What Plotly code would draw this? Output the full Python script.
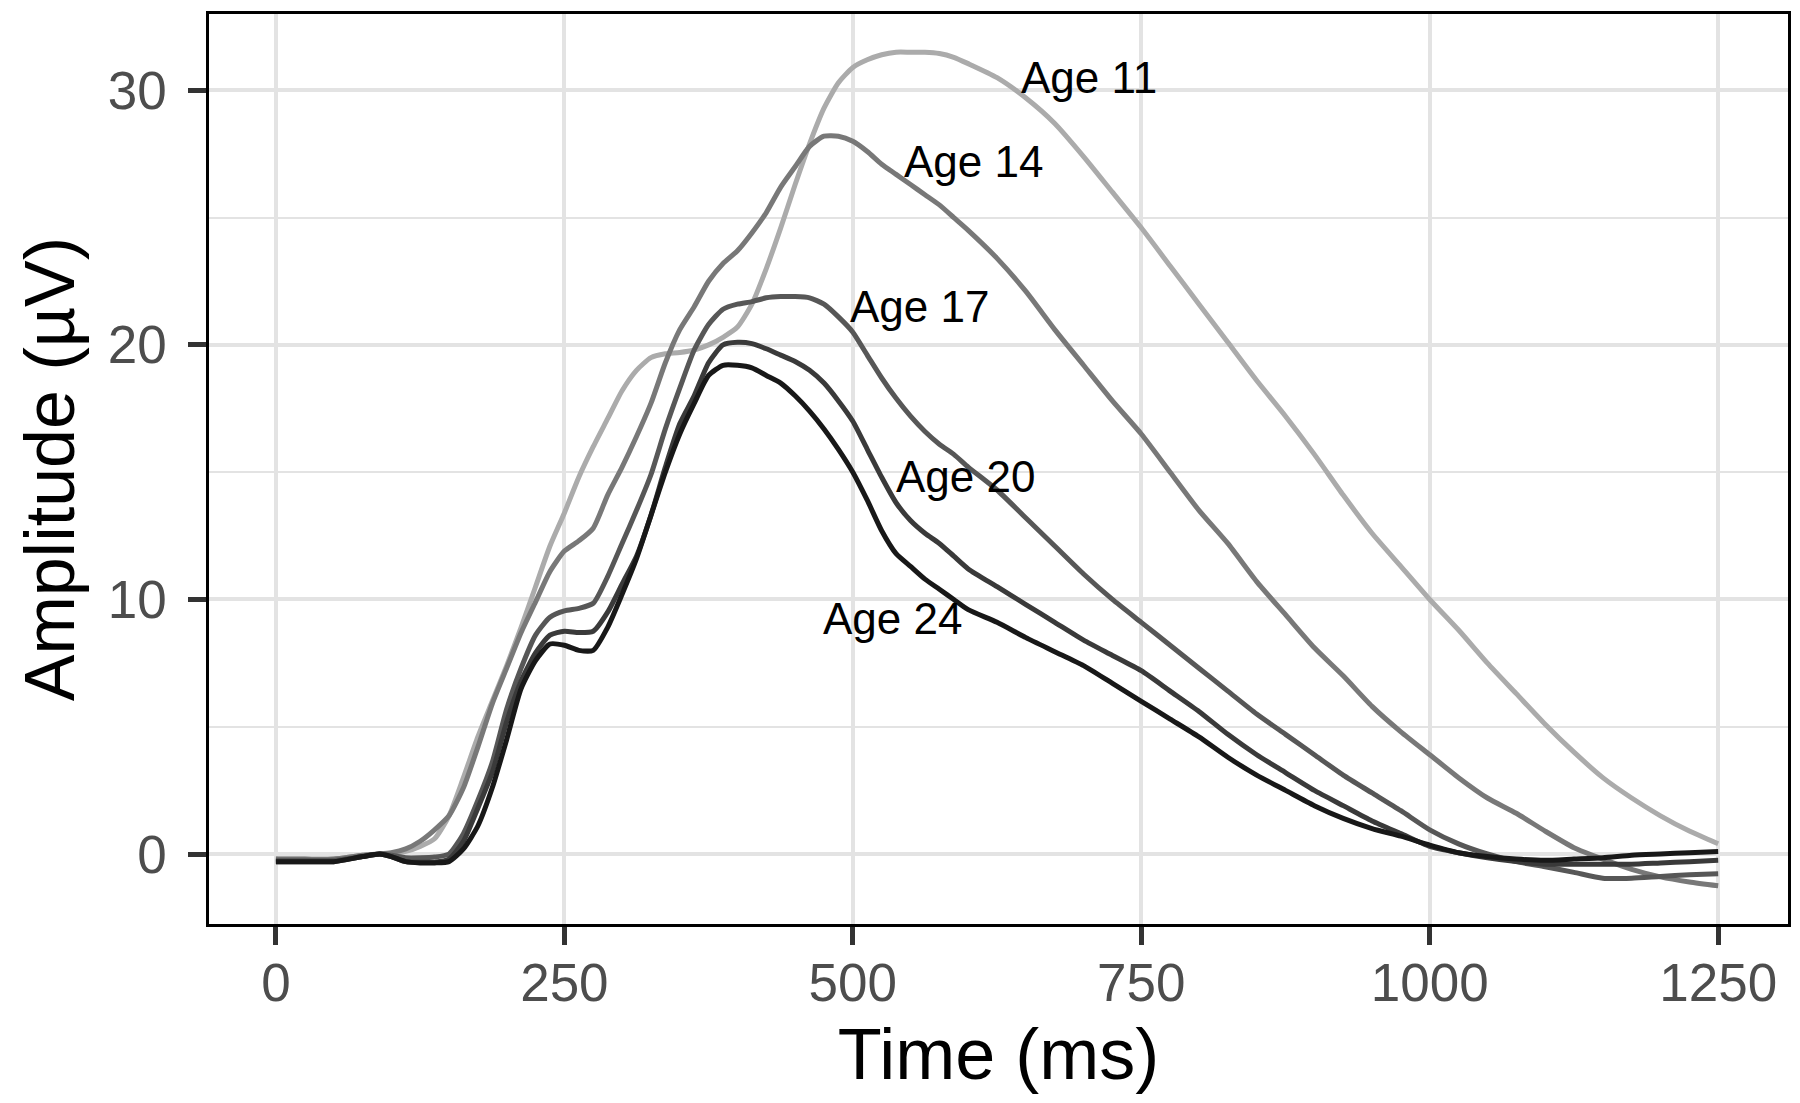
import plotly.graph_objects as go

# ---------------- data ----------------
TIME_MS = [0, 25, 50, 75, 90, 100, 112.5, 125, 137.5, 150, 162.5, 175, 187.5, 200,
           212.5, 225, 237.5, 250, 262.5, 275, 287.5, 300, 312.5, 325, 337.5, 350,
           362.5, 375, 387.5, 400, 412.5, 425, 437.5, 450, 462.5, 475, 487.5, 500,
           512.5, 525, 537.5, 550, 562.5, 575, 587.5, 600, 625, 650, 675, 700, 725,
           750, 775, 800, 825, 850, 875, 900, 925, 950, 975, 1000, 1025, 1050, 1075,
           1100, 1125, 1150, 1175, 1200, 1225, 1250]

AGE_11 = [-0.2, -0.2, -0.2, -0.05, 0.0, 0.0, 0.1, 0.3, 0.6, 1.5, 3.0, 4.6, 6.0, 7.4,
          8.9, 10.5, 12.1, 13.4, 14.8, 16.0, 17.1, 18.2, 19.0, 19.5, 19.65, 19.7,
          19.8, 20.0, 20.3, 20.7, 21.6, 23.0, 24.6, 26.3, 27.9, 29.3, 30.3, 30.9,
          31.2, 31.4, 31.5, 31.5, 31.5, 31.45, 31.3, 31.05, 30.5, 29.7, 28.7, 27.4, 26.0,
          24.6, 23.1, 21.6, 20.1, 18.6, 17.2, 15.7, 14.1, 12.6, 11.3, 10.0, 8.8, 7.5, 6.3,
          5.1, 4.0, 3.0, 2.2, 1.5, 0.9, 0.4]

AGE_14 = [-0.2, -0.2, -0.2, -0.05, 0.0, 0.05, 0.2, 0.5, 0.95, 1.5, 2.6, 4.2, 5.9, 7.3,
          8.7, 9.9, 11.1, 11.9, 12.3, 12.8, 14.1, 15.2, 16.4, 17.7, 19.3, 20.6,
          21.5, 22.5, 23.2, 23.7, 24.4, 25.2, 26.2, 27.0, 27.8, 28.2, 28.2, 28.0,
          27.6, 27.1, 26.7, 26.3, 25.9, 25.5, 25.0, 24.5, 23.4, 22.1, 20.6, 19.2, 17.8,
          16.5, 15.0, 13.5, 12.2, 10.7, 9.4, 8.1, 7.0, 5.8, 4.8, 3.9, 3.0, 2.2, 1.6,
          0.9, 0.25, -0.2, -0.6, -0.9, -1.1, -1.25]

AGE_17 = [-0.25, -0.25, -0.25, -0.1, 0.0, -0.05, -0.15, -0.15, -0.12, 0.0, 0.8, 2.1, 3.6, 5.7,
          7.3, 8.6, 9.3, 9.55, 9.65, 9.85, 10.9, 12.2, 13.5, 14.9, 16.7, 18.3,
          19.8, 20.8, 21.4, 21.6, 21.7, 21.85, 21.9, 21.9, 21.85, 21.6, 21.1, 20.5,
          19.6, 18.7, 17.9, 17.2, 16.6, 16.1, 15.7, 15.2, 14.3, 13.2, 12.1, 11.0, 10.0,
          9.1, 8.2, 7.3, 6.4, 5.5, 4.7, 3.9, 3.1, 2.4, 1.7, 0.95, 0.4, 0.0, -0.3,
          -0.5, -0.72, -0.95, -0.95, -0.88, -0.82, -0.78]

AGE_20 = [-0.3, -0.3, -0.3, -0.1, 0.0, -0.1, -0.3, -0.32, -0.32, -0.2, 0.5, 1.8, 3.2, 5.2,
          6.8, 7.9, 8.6, 8.75, 8.7, 8.75, 9.5, 10.6, 11.7, 13.3, 15.2, 16.9,
          18.0, 19.3, 20.0, 20.1, 20.05, 19.85, 19.6, 19.35, 19.0, 18.5, 17.8, 17.0,
          15.9, 14.8, 13.8, 13.1, 12.6, 12.2, 11.7, 11.2, 10.5, 9.8, 9.1, 8.4, 7.8,
          7.2, 6.4, 5.6, 4.7, 3.9, 3.2, 2.5, 1.9, 1.3, 0.8, 0.3, 0.05, -0.15, -0.3,
          -0.4, -0.4, -0.4, -0.4, -0.35, -0.3, -0.25]

AGE_24 = [-0.3, -0.3, -0.3, -0.1, 0.0, -0.1, -0.3, -0.35, -0.35, -0.3, 0.2, 1.1, 2.6, 4.5,
          6.5, 7.6, 8.25, 8.2, 8.0, 8.0, 8.9, 10.2, 11.6, 13.3, 15.0, 16.5,
          17.7, 18.8, 19.2, 19.2, 19.1, 18.8, 18.5, 18.0, 17.4, 16.7, 15.9, 15.0,
          13.9, 12.7, 11.8, 11.3, 10.8, 10.4, 10.0, 9.6, 9.1, 8.5, 7.95, 7.4, 6.7,
          6.0, 5.3, 4.6, 3.8, 3.1, 2.5, 1.9, 1.4, 1.0, 0.7, 0.35, 0.05, -0.1, -0.2,
          -0.25, -0.2, -0.15, -0.05, 0.0, 0.05, 0.1]

SERIES_NAMES = ["Age 11", "Age 14", "Age 17", "Age 20", "Age 24"]
SERIES_VALUES = [AGE_11, AGE_14, AGE_17, AGE_20, AGE_24]

X_TICKS = [0, 250, 500, 750, 1000, 1250]
Y_TICKS = [0, 10, 20, 30]
Y_MINOR = [5, 15, 25]

X_TITLE = "Time (ms)"
Y_TITLE = "Amplitude (µV)"

# ---------------- styling ----------------
LINE_COLORS = ["#ababab", "#787878", "#575757", "#3a3a3a", "#181818"]
LABEL_POS = {"Age 11": (705, 30.5), "Age 14": (605, 27.2), "Age 17": (558, 21.5),
             "Age 20": (598, 14.85), "Age 24": (534, 9.25)}
FONT = "Liberation Sans, Arial, Helvetica, sans-serif"
GRID = "#e3e3e3"
TICK_COLOR = "#333333"

fig = go.Figure()
for name, vals, col in zip(SERIES_NAMES, SERIES_VALUES, LINE_COLORS):
    fig.add_trace(go.Scatter(x=TIME_MS, y=vals, mode="lines", name=name,
                             line=dict(color=col, width=5, shape="spline", smoothing=0.6)))

for name in SERIES_NAMES:
    lx, ly = LABEL_POS[name]
    fig.add_annotation(x=lx, y=ly, text=name, showarrow=False, xanchor="center",
                       yanchor="middle", font=dict(family=FONT, size=44, color="black"))

# y-axis title placed as a rotated annotation for exact positioning
fig.add_annotation(text=Y_TITLE, xref="paper", yref="paper", x=-0.1005, y=0.5,
                   textangle=-90, showarrow=False, xanchor="center", yanchor="middle",
                   borderpad=0, font=dict(family=FONT, size=70, color="black"))

# the page body adds an 8 px offset, margins compensate for it
fig.update_layout(
    width=1800, height=1103,
    margin=dict(l=201, r=20, t=3, b=187),
    paper_bgcolor="white", plot_bgcolor="white",
    showlegend=False,
    font=dict(family=FONT),
)
fig.update_xaxes(
    range=[-58, 1310.5], tickmode="array", tickvals=X_TICKS,
    ticktext=[str(v) for v in X_TICKS],
    showgrid=True, gridcolor=GRID, gridwidth=4, zeroline=False,
    ticks="outside", ticklen=18, tickwidth=5, tickcolor=TICK_COLOR,
    showline=True, mirror=True, linecolor="black", linewidth=2.5,
    tickfont=dict(family=FONT, size=53, color="#4d4d4d"), ticklabelstandoff=-7,
    title=dict(text=X_TITLE, font=dict(family=FONT, size=72, color="black"), standoff=18),
)
fig.update_yaxes(
    range=[-2.75, 33.0], tickmode="array", tickvals=Y_TICKS,
    ticktext=[str(v) for v in Y_TICKS],
    showgrid=True, gridcolor=GRID, gridwidth=4, zeroline=False,
    ticks="outside", ticklen=18, tickwidth=5, tickcolor=TICK_COLOR,
    showline=True, mirror=True, linecolor="black", linewidth=2.5,
    tickfont=dict(family=FONT, size=53, color="#4d4d4d"), ticklabelstandoff=11,
    minor=dict(tickvals=Y_MINOR, showgrid=True, gridcolor=GRID, gridwidth=2, ticks=""),
)

fig.write_html("out.html")
